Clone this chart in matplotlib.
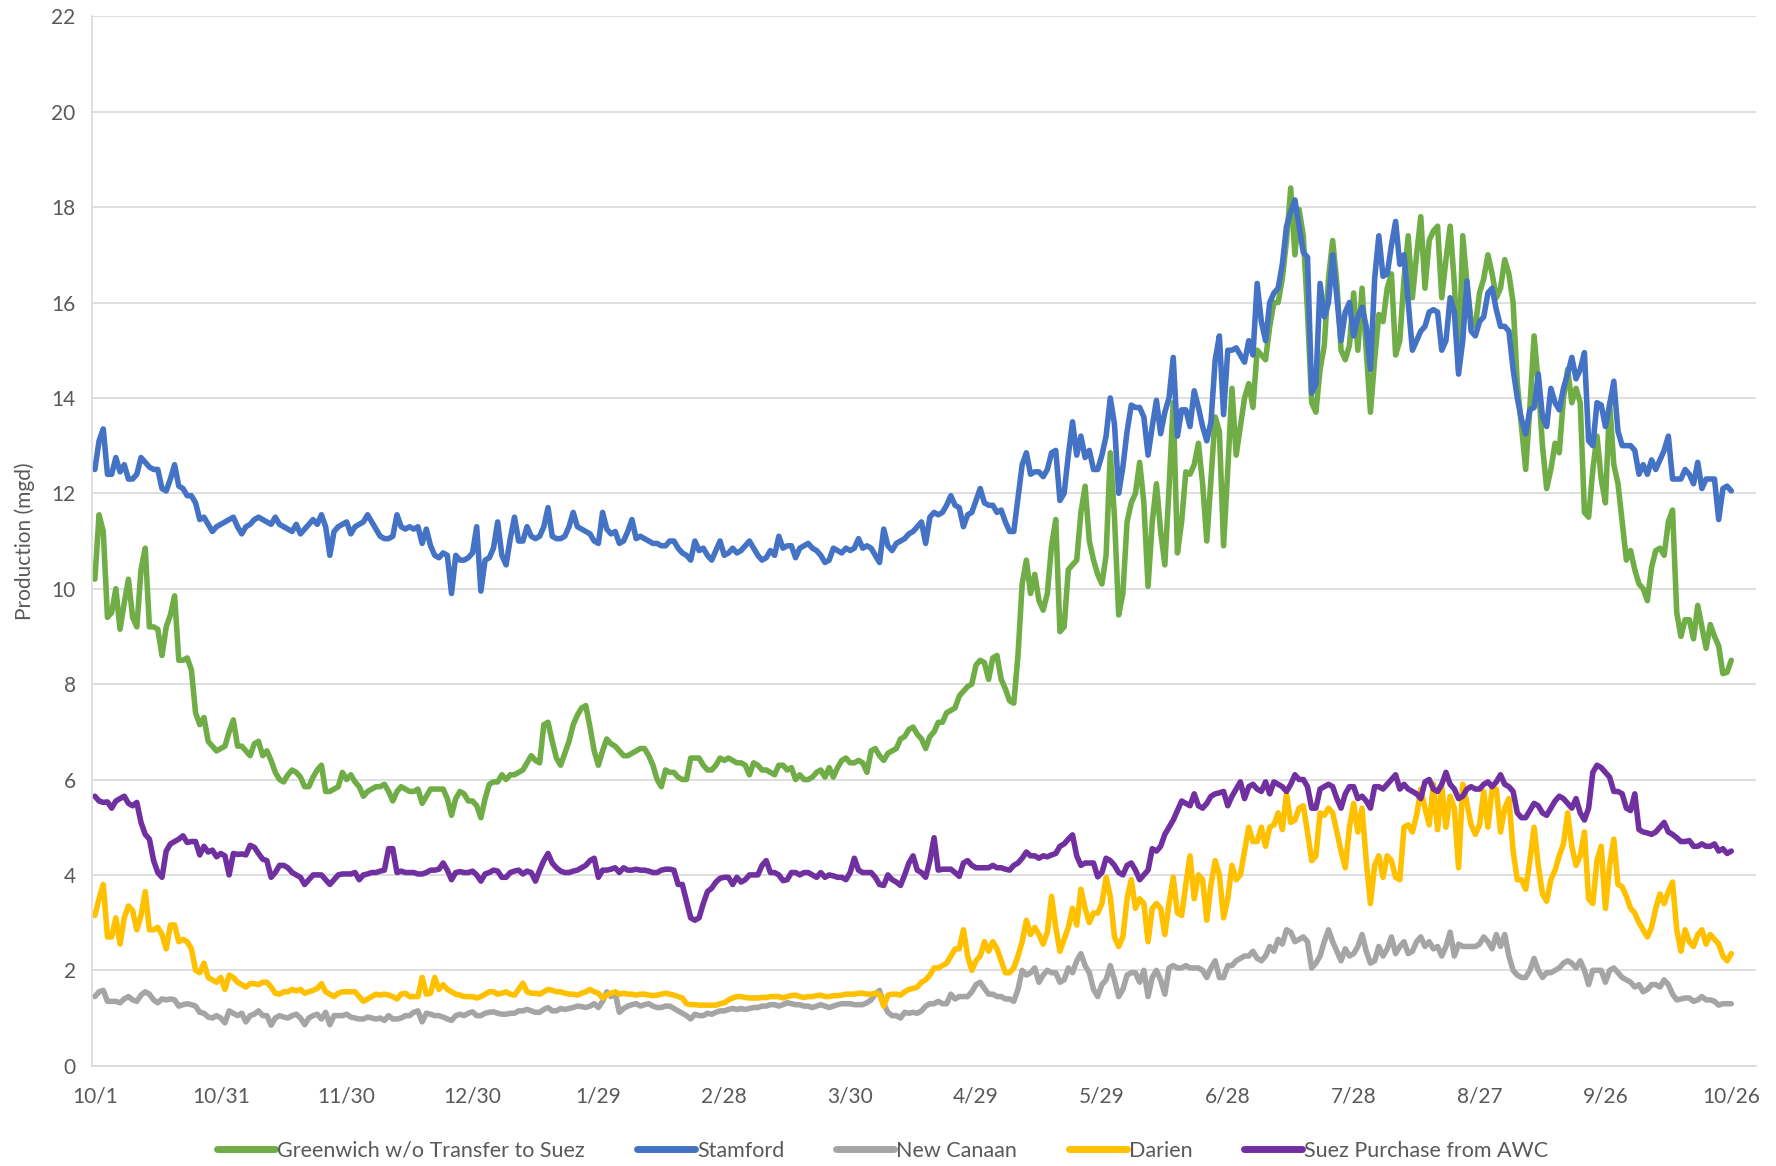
import numpy as np
import pandas as pd
import matplotlib
matplotlib.use("Agg")
import matplotlib.pyplot as plt

# daily production (mgd), 10/1 through 10/26 of the following year
greenwich = [
    10.2, 11.55, 11.2, 9.4, 9.5, 10.0, 9.15, 9.7, 10.2, 9.4,
    9.2, 10.4, 10.85, 9.2, 9.2, 9.15, 8.6, 9.2, 9.45, 9.85,
    8.5, 8.5, 8.55, 8.3, 7.4, 7.15, 7.3, 6.8, 6.7, 6.6,
    6.65, 6.7, 7.0, 7.25, 6.7, 6.7, 6.6, 6.5, 6.75, 6.8,
    6.5, 6.6, 6.4, 6.15, 6.0, 5.95, 6.1, 6.2, 6.15, 6.05,
    5.85, 5.85, 6.05, 6.2, 6.3, 5.75, 5.75, 5.8, 5.85, 6.15,
    6.0, 6.1, 5.95, 5.85, 5.65, 5.75, 5.8, 5.85, 5.85, 5.9,
    5.75, 5.55, 5.75, 5.85, 5.8, 5.75, 5.75, 5.8, 5.5, 5.65,
    5.8, 5.8, 5.8, 5.8, 5.6, 5.25, 5.6, 5.75, 5.7, 5.55,
    5.55, 5.45, 5.2, 5.6, 5.9, 5.95, 5.95, 6.1, 6.0, 6.1,
    6.1, 6.15, 6.2, 6.35, 6.5, 6.4, 6.35, 7.15, 7.2, 6.8,
    6.45, 6.3, 6.55, 6.8, 7.15, 7.35, 7.5, 7.55, 7.1, 6.6,
    6.3, 6.6, 6.85, 6.75, 6.7, 6.6, 6.5, 6.5, 6.55, 6.6,
    6.65, 6.65, 6.5, 6.3, 6.0, 5.85, 6.2, 6.15, 6.15, 6.05,
    6.0, 6.0, 6.45, 6.45, 6.45, 6.3, 6.2, 6.2, 6.3, 6.45,
    6.4, 6.45, 6.4, 6.35, 6.35, 6.3, 6.1, 6.35, 6.3, 6.2,
    6.2, 6.15, 6.1, 6.3, 6.3, 6.2, 6.25, 6.0, 6.1, 6.0,
    6.0, 6.05, 6.15, 6.2, 6.05, 6.25, 6.05, 6.25, 6.4, 6.45,
    6.35, 6.35, 6.4, 6.35, 6.15, 6.6, 6.65, 6.5, 6.4, 6.55,
    6.6, 6.65, 6.85, 6.9, 7.05, 7.1, 6.95, 6.85, 6.65, 6.9,
    7.0, 7.2, 7.2, 7.4, 7.45, 7.5, 7.75, 7.85, 7.95, 8.0,
    8.4, 8.5, 8.45, 8.1, 8.55, 8.6, 8.1, 7.9, 7.65, 7.6,
    8.6, 10.1, 10.6, 9.9, 10.3, 9.75, 9.55, 9.9, 10.9, 11.45,
    9.1, 9.2, 10.4, 10.5, 10.6, 11.6, 12.15, 11.0, 10.6, 10.3,
    10.1, 10.7, 12.85, 11.5, 9.45, 9.9, 11.4, 11.8, 12.0, 12.65,
    11.8, 10.05, 11.4, 12.2, 11.2, 10.5, 12.1, 13.9, 10.75, 11.4,
    12.45, 12.4, 12.6, 13.05, 12.2, 11.0, 12.3, 13.6, 13.3, 10.9,
    12.5, 14.2, 12.8, 13.4, 14.0, 14.3, 13.8, 15.0, 14.9, 14.8,
    15.5, 16.0, 16.0, 16.5, 17.3, 18.4, 17.0, 17.95, 17.4, 15.8,
    13.9, 13.7, 14.6, 15.1, 16.5, 17.3, 16.4, 15.0, 14.8, 15.1,
    16.2, 15.0, 16.3, 15.0, 13.7, 14.8, 15.75, 15.6, 16.3, 16.6,
    14.9, 15.2, 16.5, 17.4, 16.1, 17.0, 17.8, 16.3, 17.3, 17.5,
    17.6, 16.1, 16.9, 17.6, 16.4, 14.6, 17.4, 16.4, 15.6, 15.5,
    16.2, 16.5, 17.0, 16.6, 16.1, 16.3, 16.9, 16.6, 16.0, 14.3,
    13.4, 12.5, 13.8, 15.3, 14.3, 13.0, 12.1, 12.5, 13.05, 12.85,
    14.0, 14.6, 13.9, 14.2, 13.9, 11.6, 11.5, 12.5, 13.2, 12.3,
    11.8, 13.9, 12.6, 12.2, 11.4, 10.6, 10.8, 10.4, 10.1, 10.0,
    9.75, 10.45, 10.8, 10.85, 10.7, 11.4, 11.65, 9.5, 9.0, 9.35,
    9.35, 8.95, 9.65, 9.2, 8.75, 9.25, 9.0, 8.8, 8.22, 8.25,
    8.5,
]

stamford = [
    12.5, 13.1, 13.35, 12.4, 12.4, 12.75, 12.45, 12.6, 12.3, 12.3,
    12.4, 12.75, 12.65, 12.55, 12.5, 12.5, 12.1, 12.05, 12.3, 12.6,
    12.15, 12.1, 11.95, 11.95, 11.8, 11.45, 11.5, 11.35, 11.2, 11.3,
    11.35, 11.4, 11.45, 11.5, 11.3, 11.15, 11.3, 11.35, 11.45, 11.5,
    11.45, 11.4, 11.35, 11.5, 11.35, 11.3, 11.25, 11.2, 11.35, 11.15,
    11.25, 11.35, 11.45, 11.35, 11.55, 11.3, 10.7, 11.2, 11.3, 11.35,
    11.4, 11.15, 11.3, 11.35, 11.4, 11.55, 11.4, 11.25, 11.1, 11.05,
    11.05, 11.1, 11.55, 11.3, 11.25, 11.3, 11.25, 11.3, 10.95, 11.25,
    10.9, 10.7, 10.65, 10.75, 10.7, 9.9, 10.7, 10.6, 10.6, 10.65,
    10.75, 11.3, 9.95, 10.6, 10.65, 10.85, 11.4, 10.7, 10.5, 11.05,
    11.5, 11.0, 11.0, 11.3, 11.1, 11.05, 11.1, 11.3, 11.7, 11.1,
    11.05, 11.05, 11.1, 11.3, 11.6, 11.3, 11.25, 11.2, 11.15, 11.0,
    10.95, 11.6, 11.25, 11.15, 11.2, 10.95, 11.0, 11.2, 11.45, 11.05,
    11.1, 11.05, 11.0, 10.95, 10.95, 10.9, 10.9, 11.0, 11.0, 10.85,
    10.75, 10.7, 10.6, 11.0, 10.8, 10.85, 10.7, 10.6, 10.8, 11.0,
    10.7, 10.75, 10.85, 10.75, 10.8, 10.9, 11.0, 10.85, 10.7, 10.6,
    10.65, 10.8, 10.7, 11.1, 10.85, 10.9, 10.9, 10.65, 10.85, 10.9,
    10.95, 10.85, 10.8, 10.7, 10.55, 10.6, 10.85, 10.8, 10.75, 10.85,
    10.8, 10.85, 11.05, 10.85, 10.9, 10.85, 10.7, 10.55, 11.25, 10.9,
    10.8, 10.95, 11.0, 11.05, 11.15, 11.2, 11.3, 11.4, 10.95, 11.5,
    11.6, 11.55, 11.6, 11.75, 11.95, 11.75, 11.7, 11.3, 11.55, 11.6,
    11.85, 12.1, 11.8, 11.75, 11.75, 11.6, 11.65, 11.4, 11.2, 11.2,
    11.9, 12.6, 12.85, 12.4, 12.45, 12.45, 12.35, 12.5, 12.85, 12.9,
    11.85, 12.0, 12.8, 13.5, 12.8, 13.2, 12.75, 12.9, 12.5, 12.5,
    12.8, 13.2, 14.0, 13.45, 12.0, 12.55, 13.3, 13.85, 13.8, 13.8,
    13.6, 12.8, 13.4, 13.95, 13.25, 13.7, 14.0, 14.85, 13.2, 13.75,
    13.75, 13.4, 14.15, 13.8, 13.4, 13.1, 13.5, 14.8, 15.3, 13.65,
    15.0, 15.0, 15.05, 14.9, 14.75, 15.2, 14.9, 16.4, 15.6, 15.2,
    16.0, 16.2, 16.3, 16.8, 17.6, 17.9, 18.15, 17.6, 17.05, 16.95,
    14.1, 14.3, 16.4, 15.7, 16.0, 17.0, 16.1, 15.2, 15.8, 16.0,
    15.3, 15.7, 15.9, 15.5, 14.6, 16.5, 17.4, 16.55, 16.6, 17.2,
    17.7, 16.8, 17.0, 16.0, 15.0, 15.2, 15.4, 15.5, 15.8, 15.85,
    15.8, 15.0, 15.2, 16.1, 15.8, 14.5, 15.2, 16.45, 15.4, 15.3,
    15.6, 15.7, 16.2, 16.3, 15.85, 15.5, 15.5, 15.4, 14.6, 14.0,
    13.55, 13.25, 13.75, 13.8, 14.5, 13.6, 13.4, 14.2, 13.9, 13.75,
    14.2, 14.5, 14.85, 14.4, 14.6, 14.95, 13.1, 13.0, 13.9, 13.85,
    13.4, 13.85, 14.35, 13.3, 13.0, 13.0, 13.0, 12.9, 12.4, 12.6,
    12.4, 12.7, 12.5, 12.7, 12.9, 13.2, 12.3, 12.3, 12.3, 12.5,
    12.4, 12.2, 12.65, 12.1, 12.3, 12.3, 12.3, 11.45, 12.1, 12.15,
    12.05,
]

new_canaan = [
    1.45, 1.55, 1.58, 1.35, 1.35, 1.35, 1.32, 1.4, 1.45, 1.38,
    1.35, 1.48, 1.55, 1.5, 1.38, 1.32, 1.4, 1.38, 1.4, 1.38,
    1.25, 1.28, 1.3, 1.28, 1.25, 1.12, 1.1, 1.02, 1.0, 1.05,
    1.0, 0.9, 1.15, 1.1, 1.05, 1.1, 0.92, 1.05, 1.08, 1.15,
    1.05, 1.05, 0.85, 1.0, 1.05, 1.02, 1.0, 1.05, 1.08, 1.0,
    0.86, 1.0, 1.05, 1.08, 0.98, 1.12, 0.86, 1.05, 1.05, 1.05,
    1.08, 1.02, 1.0, 0.98, 0.98, 1.02, 1.0, 0.98, 1.0, 0.95,
    1.05, 0.98, 0.98, 1.0, 1.05, 1.05, 1.12, 1.15, 0.92, 1.1,
    1.08, 1.05, 1.05, 1.02, 0.98, 0.95, 1.05, 1.08, 1.05, 1.1,
    1.13, 1.05, 1.05, 1.1, 1.12, 1.13, 1.1, 1.08, 1.08, 1.1,
    1.1, 1.15, 1.15, 1.18, 1.15, 1.12, 1.12, 1.18, 1.22, 1.15,
    1.15, 1.2, 1.18, 1.2, 1.22, 1.25, 1.24, 1.22, 1.25, 1.3,
    1.22, 1.35, 1.55, 1.45, 1.52, 1.12, 1.2, 1.25, 1.28, 1.3,
    1.25, 1.28, 1.3, 1.25, 1.22, 1.22, 1.25, 1.25, 1.2, 1.15,
    1.1, 1.05, 0.98, 1.08, 1.05, 1.05, 1.1, 1.08, 1.12, 1.15,
    1.15, 1.18, 1.2, 1.18, 1.2, 1.18, 1.2, 1.22, 1.22, 1.25,
    1.25, 1.28, 1.28, 1.25, 1.28, 1.32, 1.3, 1.28, 1.28, 1.25,
    1.25, 1.22, 1.25, 1.28, 1.25, 1.22, 1.25, 1.28, 1.3, 1.3,
    1.3, 1.28, 1.28, 1.28, 1.32, 1.38, 1.5, 1.58, 1.3, 1.12,
    1.05, 1.05, 1.0, 1.12, 1.1, 1.12, 1.1, 1.15, 1.25, 1.3,
    1.3, 1.35, 1.3, 1.3, 1.5, 1.4, 1.45, 1.45, 1.45, 1.55,
    1.7, 1.75, 1.62, 1.5, 1.5, 1.45, 1.45, 1.4, 1.4, 1.35,
    1.6, 2.0, 1.9, 1.95, 2.05, 1.75, 1.9, 2.0, 1.95, 1.95,
    1.75, 1.8, 2.05, 1.95, 2.2, 2.35, 2.1, 1.95, 1.6, 1.45,
    1.7, 1.8, 2.1, 1.8, 1.45, 1.6, 1.9, 1.95, 1.95, 1.75,
    2.0, 1.45, 1.85, 2.0, 1.8, 1.5, 2.05, 2.1, 2.05, 2.05,
    2.1, 2.05, 2.05, 2.05, 2.0, 1.85, 2.05, 2.2, 1.85, 1.85,
    2.1, 2.1, 2.2, 2.25, 2.3, 2.3, 2.4, 2.25, 2.2, 2.3,
    2.5, 2.4, 2.65, 2.55, 2.85, 2.8, 2.6, 2.65, 2.7, 2.6,
    2.05, 2.15, 2.3, 2.6, 2.85, 2.6, 2.4, 2.2, 2.45, 2.3,
    2.35, 2.5, 2.75, 2.4, 2.15, 2.2, 2.5, 2.3, 2.45, 2.7,
    2.35, 2.5, 2.6, 2.35, 2.4, 2.6, 2.7, 2.5, 2.6, 2.45,
    2.5, 2.3, 2.5, 2.8, 2.3, 2.55, 2.5, 2.5, 2.5, 2.5,
    2.55, 2.7, 2.6, 2.45, 2.75, 2.5, 2.75, 2.3, 2.0, 1.9,
    1.85, 1.85, 2.0, 2.25, 2.0, 1.85, 1.95, 1.95, 2.0, 2.05,
    2.15, 2.2, 2.15, 2.05, 2.2, 2.0, 1.7, 2.0, 2.0, 2.0,
    1.75, 2.0, 2.05, 1.95, 1.85, 1.8, 1.75, 1.65, 1.7, 1.55,
    1.6, 1.7, 1.7, 1.65, 1.8, 1.7, 1.5, 1.38, 1.4, 1.42,
    1.42, 1.35, 1.38, 1.45, 1.38, 1.38, 1.35, 1.27, 1.3, 1.3,
    1.3,
]

darien = [
    3.15, 3.5, 3.8, 2.7, 2.7, 3.1, 2.55, 3.1, 3.35, 3.25,
    2.85, 3.15, 3.65, 2.85, 2.85, 2.9, 2.75, 2.45, 2.95, 2.95,
    2.6, 2.65, 2.6, 2.45, 2.0, 1.95, 2.15, 1.85, 1.8, 1.75,
    1.85, 1.6, 1.9, 1.85, 1.75, 1.7, 1.65, 1.72, 1.72, 1.7,
    1.75, 1.75, 1.65, 1.52, 1.5, 1.55, 1.55, 1.6, 1.57, 1.6,
    1.52, 1.55, 1.58, 1.62, 1.72, 1.55, 1.5, 1.45, 1.52, 1.55,
    1.55, 1.55, 1.55, 1.45, 1.35, 1.4, 1.45, 1.5, 1.48, 1.5,
    1.48, 1.45, 1.4, 1.5, 1.52, 1.45, 1.45, 1.45, 1.85, 1.5,
    1.52, 1.85, 1.6, 1.7, 1.6, 1.55, 1.5, 1.48, 1.45, 1.45,
    1.45, 1.42, 1.45, 1.5, 1.55, 1.55, 1.5, 1.52, 1.55, 1.5,
    1.48, 1.6, 1.73, 1.55, 1.52, 1.52, 1.5, 1.55, 1.6, 1.58,
    1.55, 1.55, 1.52, 1.5, 1.5, 1.48, 1.52, 1.55, 1.6, 1.55,
    1.52, 1.42, 1.48, 1.52, 1.55, 1.5, 1.52, 1.5, 1.5, 1.48,
    1.5, 1.5, 1.48, 1.47, 1.48, 1.5, 1.52, 1.5, 1.48, 1.45,
    1.42, 1.3, 1.28, 1.28, 1.27, 1.27, 1.27, 1.27, 1.27, 1.3,
    1.32, 1.38, 1.42, 1.45, 1.45, 1.43, 1.42, 1.42, 1.42, 1.43,
    1.43, 1.45, 1.45, 1.45, 1.42, 1.45, 1.47, 1.48, 1.45, 1.43,
    1.45, 1.45, 1.47, 1.48, 1.45, 1.45, 1.47, 1.47, 1.48, 1.5,
    1.5, 1.5, 1.52, 1.52, 1.5, 1.5, 1.52, 1.5, 1.25, 1.48,
    1.5, 1.5, 1.48, 1.55, 1.6, 1.62, 1.65, 1.75, 1.8, 1.9,
    2.05, 2.05, 2.1, 2.15, 2.3, 2.45, 2.45, 2.85, 2.3, 2.0,
    2.2, 2.3, 2.6, 2.4, 2.6, 2.45, 2.2, 1.95, 1.95, 2.05,
    2.3, 2.6, 3.05, 2.75, 2.9, 2.75, 2.55, 2.8, 3.55, 2.9,
    2.4, 2.65, 2.9, 3.3, 2.95, 3.7, 3.3, 3.0, 3.2, 3.2,
    3.4, 3.95, 3.55, 2.7, 2.5, 2.7, 3.5, 3.9, 3.3, 3.5,
    3.4, 2.6, 3.3, 3.4, 3.3, 2.75, 3.4, 3.95, 3.2, 3.15,
    3.8, 4.4, 3.5, 4.0, 3.9, 3.05, 3.8, 4.3, 4.0, 3.1,
    3.5, 4.2, 3.9, 4.0, 4.5, 5.0, 4.7, 4.7, 5.0, 4.6,
    5.0, 5.05, 5.3, 4.95, 5.7, 5.1, 5.15, 5.4, 5.45, 4.9,
    4.3, 4.4, 5.3, 5.25, 5.4, 5.3, 4.9, 4.5, 4.15, 5.0,
    5.5, 4.9, 5.4, 4.3, 3.4, 4.2, 4.4, 3.95, 4.4, 4.3,
    3.95, 3.9, 5.0, 5.05, 4.9, 5.25, 5.8, 5.4, 5.05, 5.9,
    4.95, 5.85, 5.0, 5.65, 5.4, 4.15, 5.9, 5.5, 5.05, 4.85,
    5.05, 5.75, 5.0, 5.8, 5.8, 4.9, 5.4, 5.6, 4.5, 3.9,
    3.9, 3.7, 4.3, 5.0, 4.2, 3.6, 3.45, 3.9, 4.1, 4.4,
    4.65, 5.3, 4.6, 4.2, 4.4, 4.9, 3.5, 3.4, 4.3, 4.6,
    3.3, 4.2, 4.75, 3.8, 3.75, 3.55, 3.3, 3.2, 3.0, 2.85,
    2.7, 2.9, 3.3, 3.6, 3.4, 3.65, 3.85, 2.85, 2.4, 2.85,
    2.6, 2.5, 2.75, 2.85, 2.55, 2.75, 2.65, 2.55, 2.3, 2.2,
    2.35,
]

suez_awc = [
    5.65, 5.55, 5.52, 5.53, 5.4, 5.55, 5.6, 5.65, 5.5, 5.45,
    5.52, 5.1, 4.85, 4.75, 4.3, 4.05, 3.95, 4.5, 4.65, 4.7,
    4.75, 4.82, 4.68, 4.7, 4.7, 4.42, 4.6, 4.48, 4.52, 4.38,
    4.45, 4.4, 4.0, 4.45, 4.43, 4.44, 4.42, 4.62, 4.58, 4.45,
    4.33, 4.3, 3.95, 4.05, 4.2, 4.2, 4.15, 4.05, 4.0, 3.95,
    3.8, 3.9, 4.0, 4.0, 4.0, 3.9, 3.8, 3.9, 4.0, 4.02,
    4.02, 4.02, 4.05, 3.9, 4.0, 4.02, 4.05, 4.05, 4.08, 4.1,
    4.55, 4.55, 4.05, 4.08, 4.05, 4.05, 4.05, 4.02, 4.02, 4.05,
    4.1, 4.1, 4.12, 4.25, 4.1, 3.9, 4.05, 4.07, 4.05, 4.05,
    4.08, 4.0, 3.87, 4.02, 4.05, 4.1, 4.08, 3.95, 3.95, 4.05,
    4.08, 4.1, 4.02, 4.08, 4.05, 3.87, 4.1, 4.3, 4.45, 4.25,
    4.15, 4.08, 4.05, 4.05, 4.08, 4.1, 4.15, 4.2, 4.3, 4.35,
    3.95, 4.1, 4.1, 4.12, 4.15, 4.05, 4.15, 4.1, 4.1, 4.12,
    4.1, 4.1, 4.08, 4.05, 4.05, 4.1, 4.12, 4.12, 4.1, 3.8,
    3.8, 3.45, 3.1, 3.05, 3.1, 3.4, 3.65, 3.72, 3.85, 3.93,
    3.95, 3.95, 3.8, 3.95, 3.85, 3.9, 4.0, 4.0, 4.0, 4.2,
    4.3, 4.05, 4.05, 4.0, 3.88, 3.9, 4.05, 4.05, 4.0, 4.05,
    4.05, 4.0, 3.95, 4.05, 3.95, 4.0, 3.98, 3.95, 3.95, 3.9,
    4.05, 4.35, 4.1, 4.05, 4.05, 4.05, 3.95, 3.8, 3.78, 4.0,
    3.9, 3.85, 3.78, 4.0, 4.25, 4.4, 4.1, 4.05, 3.95, 4.3,
    4.78, 4.1, 4.12, 4.12, 4.12, 4.05, 3.97, 4.25, 4.3, 4.2,
    4.15, 4.15, 4.15, 4.15, 4.2, 4.15, 4.15, 4.12, 4.1, 4.2,
    4.25, 4.35, 4.48, 4.4, 4.4, 4.35, 4.4, 4.38, 4.42, 4.45,
    4.6, 4.65, 4.75, 4.84, 4.4, 4.2, 4.25, 4.25, 4.25, 3.96,
    4.05, 4.35, 4.3, 4.2, 4.05, 4.0, 4.2, 4.25, 4.1, 3.9,
    4.0, 4.1, 4.55, 4.5, 4.6, 4.85, 5.0, 5.15, 5.35, 5.55,
    5.5, 5.45, 5.7, 5.45, 5.4, 5.5, 5.65, 5.7, 5.72, 5.75,
    5.45, 5.65, 5.8, 5.95, 5.6, 5.85, 5.9, 5.8, 5.75, 5.95,
    5.7, 5.95, 5.9, 5.85, 5.75, 5.9, 6.1, 6.0, 6.0, 5.85,
    5.4, 5.4, 5.8, 5.85, 5.9, 5.85, 5.6, 5.4, 5.7, 5.85,
    5.85, 5.6, 5.65, 5.55, 5.4, 5.85, 5.85, 5.8, 5.9, 6.0,
    6.1, 5.8, 5.9, 5.8, 5.75, 5.7, 5.6, 5.95, 6.0, 5.8,
    5.75, 5.9, 6.15, 5.9, 5.8, 5.6, 5.65, 5.8, 5.85, 5.8,
    5.8, 5.9, 5.95, 5.85, 5.95, 6.1, 5.9, 5.85, 5.75, 5.3,
    5.2, 5.2, 5.35, 5.5, 5.45, 5.3, 5.25, 5.4, 5.55, 5.65,
    5.6, 5.5, 5.4, 5.6, 5.3, 5.15, 5.4, 6.15, 6.3, 6.25,
    6.15, 6.05, 5.75, 5.75, 5.7, 5.4, 5.35, 5.7, 4.95, 4.9,
    4.88, 4.85, 4.9, 5.0, 5.1, 4.9, 4.85, 4.78, 4.7, 4.7,
    4.72, 4.6, 4.6, 4.65, 4.6, 4.6, 4.65, 4.5, 4.55, 4.45,
    4.5,
]

series_names = ["Greenwich w/o Transfer to Suez", "Stamford", "New Canaan",
                "Darien", "Suez Purchase from AWC"]
series_colors = ["#70AD47", "#4472C4", "#A5A5A5", "#FFC000", "#7030A0"]

dates = pd.date_range("2020-10-01", periods=len(stamford), freq="D")
tick_idx = np.arange(0, len(dates), 30)
tick_labels = [f"{dates[i].month}/{dates[i].day}" for i in tick_idx]

plt.rcParams["font.family"] = ["Lato", "DejaVu Sans"]
text_color = "#595959"
grid_color = "#D9D9D9"

fig = plt.figure(figsize=(17.76, 11.66), dpi=100)
ax = fig.add_axes([0.052, 0.086, 0.937, 0.9])

all_series = [greenwich, stamford, new_canaan, darien, suez_awc]
for vals, name, color in zip(all_series, series_names, series_colors):
    ax.plot(np.arange(len(vals)), vals, color=color, lw=4.0, label=name,
            solid_joinstyle="round", solid_capstyle="round")

ax.set_ylim(0, 22)
ax.set_yticks(np.arange(0, 23, 2))
ax.set_xlim(-0.6, 396)
ax.set_xticks(tick_idx)
ax.set_xticklabels(tick_labels)

ax.grid(axis="y", color=grid_color, lw=1.2)
ax.set_axisbelow(True)
for side in ["top", "right"]:
    ax.spines[side].set_visible(False)
for side in ["left", "bottom"]:
    ax.spines[side].set_color(grid_color)
    ax.spines[side].set_linewidth(1.2)
ax.tick_params(axis="both", length=0, labelsize=15, colors=text_color, pad=12)
ax.tick_params(axis="x", pad=15)

ax.set_ylabel("Production (mgd)", fontsize=15, color=text_color, labelpad=12)

leg = fig.legend(loc="lower center", bbox_to_anchor=(0.497, -0.012), ncol=5,
                 frameon=False, fontsize=15.5, handlelength=2.7,
                 handletextpad=0.1, columnspacing=2.4, labelcolor=text_color)
for line in leg.get_lines():
    line.set_linewidth(5)

fig.savefig("out.png", dpi=100)
